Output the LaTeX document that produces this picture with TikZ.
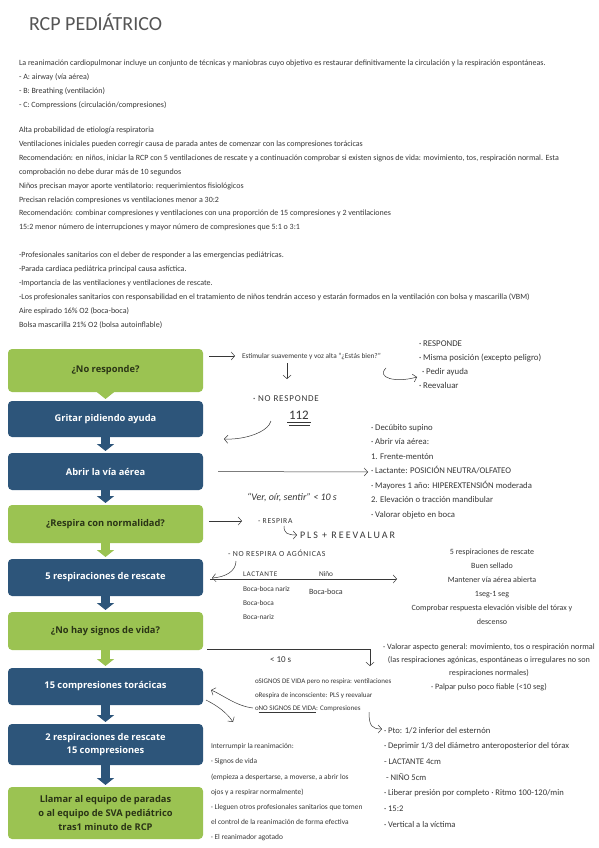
\documentclass[tikz,border=0pt]{standalone}
\usepackage{fontspec}
\setmainfont{Carlito}
\newfontfamily\boxfont{Open Sans}
\newfontfamily\capsfont[LetterSpace=9]{Carlito}
\usetikzlibrary{arrows.meta}

\definecolor{boxgreen}{RGB}{155,195,82}
\definecolor{boxblue}{RGB}{45,85,122}
\definecolor{greentext}{RGB}{42,52,22}
\definecolor{ink}{RGB}{55,55,55}
\definecolor{titlegray}{RGB}{85,85,85}

\begin{document}
\begin{tikzpicture}[x=1pt,y=-1pt,
  every node/.style={inner sep=0pt, outer sep=0pt},
  title/.style={anchor=base west, text=titlegray, font=\fontsize{20}{20}\selectfont},
  intro/.style={anchor=north west, align=left, text=ink, font=\fontsize{8}{13.9}\selectfont},
  note/.style={anchor=base west, text=ink, font=\fontsize{#1}{9}\selectfont},
  note/.default=7.3,
  capsnote/.style={anchor=base west, text=ink, font=\capsfont\fontsize{#1}{9}\selectfont},
  notes/.style 2 args={anchor=north west, align=left, text=ink, font=\fontsize{#1}{#2}\selectfont},
  greenbox/.style={fill=boxgreen, text=greentext, rounded corners=4pt, minimum width=195pt,
    align=center, font=\boxfont\bfseries\fontsize{9.3}{13.5}\selectfont},
  bluebox/.style={greenbox, fill=boxblue, text=white},
  blockarrow/.style={line width=9pt, -{Triangle[length=7pt,width=17pt]}},
  hand/.style={draw=ink, line width=0.5pt, -{Straight Barb[length=3.5pt,width=8pt]}}
]
\useasboundingbox[fill=white] (0,0) rectangle (599,848);

% Title
\node[title] (title) at (29,31) {RCP PEDIÁTRICO};

% Introduction
\node[intro] (intro1) at (19,60)
{La reanimación cardiopulmonar incluye un conjunto de técnicas y maniobras cuyo objetivo es restaurar definitivamente la circulación y la respiración espontáneas.\\
- A: airway (vía aérea)\\
- B: Breathing (ventilación)\\
- C: Compressions (circulación/compresiones)};

\node[intro] (intro2) at (19,127)
{Alta probabilidad de etiología respiratoria\\
Ventilaciones iniciales pueden corregir causa de parada antes de comenzar con las compresiones torácicas\\
Recomendación: en niños, iniciar la RCP con 5 ventilaciones de rescate y a continuación comprobar si existen signos de vida: movimiento, tos, respiración normal. Esta\\
comprobación no debe durar más de 10 segundos\\
Niños precisan mayor aporte ventilatorio: requerimientos fisiológicos\\
Precisan relación compresiones vs ventilaciones menor a 30:2\\
Recomendación: combinar compresiones y ventilaciones con una proporción de 15 compresiones y 2 ventilaciones\\
15:2 menor número de interrupciones y mayor número de compresiones que 5:1 o 3:1};

\node[intro] (intro3) at (19,252)
{-Profesionales sanitarios con el deber de responder a las emergencias pediátricas.\\
-Parada cardiaca pediátrica principal causa asfíctica.\\
-Importancia de las ventilaciones y ventilaciones de rescate.\\
-Los profesionales sanitarios con responsabilidad en el tratamiento de niños tendrán acceso y estarán formados en la ventilación con bolsa y mascarilla (VBM)\\
Aire espirado 16\% O2 (boca-boca)\\
Bolsa mascarilla 21\% O2 (bolsa autoinflable)};

% Flow boxes
\node[greenbox, minimum height=43pt] (b1) at (105.5,370.5) {¿No responde?};
\node[bluebox, minimum height=36pt] (b2) at (105.5,419) {Gritar pidiendo ayuda};
\node[bluebox, minimum height=37pt] (b3) at (105.5,471.5) {Abrir la vía aérea};
\node[greenbox, minimum height=38pt] (b4) at (105.5,524) {¿Respira con normalidad?};
\node[bluebox, minimum height=37pt] (b5) at (105.5,577.5) {5 respiraciones de rescate};
\node[greenbox, minimum height=38pt] (b6) at (105.5,631) {¿No hay signos de vida?};
\node[bluebox, minimum height=37pt] (b7) at (105.5,686.5) {15 compresiones torácicas};
\node[bluebox, minimum height=41pt] (b8) at (105.5,744.5) {2 respiraciones de rescate\\15 compresiones};
\node[greenbox, minimum height=52pt, font=\boxfont\bfseries\fontsize{9.3}{14}\selectfont] (b9) at (105.5,813)
{Llamar al equipo de paradas\\o al equipo de SVA pediátrico\\tras1 minuto de RCP};

% Block arrows
\draw[blockarrow, boxgreen] (b1.south) -- ([yshift=2pt]b2.north);
\draw[blockarrow, boxblue] (b2.south) -- ([yshift=2pt]b3.north);
\draw[blockarrow, boxblue] (b3.south) -- ([yshift=2pt]b4.north);
\draw[blockarrow, boxgreen] (b4.south) -- ([yshift=2pt]b5.north);
\draw[blockarrow, boxblue] (b5.south) -- ([yshift=2pt]b6.north);
\draw[blockarrow, boxgreen] (b6.south) -- ([yshift=2pt]b7.north);
\draw[blockarrow, boxblue] (b7.south) -- ([yshift=2pt]b8.north);
\draw[blockarrow, boxblue] (b8.south) -- ([yshift=2pt]b9.north);

% Step 1
\node[note] (estim) at (242,358) {Estimular suavemente y voz alta “¿Estás bien?”};
\draw[hand, shorten <=6pt, shorten >=7pt] (b1.east |- estim.west) -- (estim.west);

\node[notes={8.8}{14}] (responde) at (419,340.4)
{· RESPONDE\\
· Misma posición (excepto peligro)\\
\hspace{3pt}· Pedir ayuda\\
· Reevaluar};

\coordinate (hk1a) at (386,368);
\coordinate (hk1b) at (417,377);
\draw[hand] (hk1a) .. controls (376,378) and (396,383) .. (hk1b);

\coordinate (dn1a) at (287,363);
\coordinate (dn1b) at (287,379);
\draw[hand] (dn1a) -- (dn1b);

% Step 2
\node[capsnote=9] (noresp) at (253,401.5) {· NO RESPONDE};
\node[note=13] (n112) at (289,419) {112};
\draw[ink, line width=0.6pt] ([xshift=-2pt,yshift=-3pt]n112.base west) -- ([xshift=2pt,yshift=-3pt]n112.base east);
\draw[ink, line width=0.6pt] ([xshift=0pt,yshift=-6pt]n112.base west) -- ([xshift=1pt,yshift=-6pt]n112.base east);

\coordinate (cv2a) at (271,421);
\coordinate (cv2b) at (224,439);
\draw[hand] (cv2a) .. controls (268,432) and (245,440) .. (cv2b);

% Step 3
\node[notes={8.7}{14.5}] (abrir) at (371,424.2)
{· Decúbito supino\\
· Abrir vía aérea:\\
1. Frente-mentón\\
· Lactante: POSICIÓN NEUTRA/OLFATEO\\
· Mayores 1 año: HIPEREXTENSIÓN moderada\\
2. Elevación o tracción mandibular\\
· Valorar objeto en boca};
\coordinate (h3) at (368,472);
\draw[hand, shorten <=15pt] (b3.east) -- (h3);

\node[note, font=\itshape\fontsize{10}{10}\selectfont] (ver) at (247,500) {“Ver, oír, sentir” < 10 s};

% Step 4
\node[capsnote=7.6] (respira) at (258,523.5) {- RESPIRA};
\draw[hand, shorten <=6pt, shorten >=16pt] ([yshift=3pt]b4.east) -- ([yshift=3pt]b4.east -| respira.west);
\node[capsnote=9.4, font=\addfontfeatures{LetterSpace=20}] (pls) at (300,538.5) {PLS + REEVALUAR};
\coordinate (hk4a) at (284,526);
\coordinate (hk4b) at (297,535);
\draw[hand] (hk4a) .. controls (284,533) and (287,535) .. (hk4b);

% Step 5
\node[capsnote=7.8] (norespira) at (228,556.5) {- NO RESPIRA O AGÓNICAS};
\coordinate (cv5a) at (236,561);
\coordinate (cv5b) at (212,578);
\draw[hand] (cv5a) .. controls (236,571) and (226,577) .. (cv5b);
\coordinate (h5) at (397,579);
\draw[hand, shorten <=7pt] ([yshift=-1.5pt]b5.east) -- (h5);

\node[capsnote=7.2] (lact) at (243,576) {LACTANTE};
\node[note] (nino) at (319,576) {Niño};
\node[note] (bbn) at (243,591) {Boca-boca nariz};
\node[note=8] (bbnino) at (309,594) {Boca-boca};
\node[note] (bb) at (243,605) {Boca-boca};
\node[note] (bnar) at (243,619) {Boca-nariz};

\node[notes={8}{14}, anchor=north, align=center] (rescate) at (492,549.4)
{5 respiraciones de rescate\\
Buen sellado\\
Mantener vía aérea abierta\\
1seg-1 seg\\
Comprobar respuesta elevación visible del tórax y\\
descenso};

% Step 6
\coordinate (v6) at (370,666);
\draw[hand, shorten <=4pt] ([yshift=-18pt]b6.east) -| (v6);
\node[note=9] (lt10) at (270,662) {< 10 s};

\node[notes={8.2}{13.3}, anchor=north, align=center] (valorar) at (489,643.4)
{· Valorar aspecto general: movimiento, tos o respiración normal\\
(las respiraciones agónicas, espontáneas o irregulares no son\\
respiraciones normales)\\
· Palpar pulso poco fiable (<10 seg)};

% Step 7
\node[notes={7}{13.5}] (signos) at (255,678.8)
{oSIGNOS DE VIDA pero no respira: ventilaciones\\
oRespira de inconsciente: PLS y reevaluar\\
o\underline{NO SIGNOS DE VIDA}: Compresiones};
\coordinate (cv7a) at (253,708);
\coordinate (cv7b) at (211,690);
\draw[hand] (cv7a) .. controls (236,706) and (223,695) .. (cv7b);

\coordinate (cv8a) at (206,700);
\coordinate (cv8b) at (233,722);
\draw[hand] (cv8a) .. controls (218,706) and (227,713) .. (cv8b);

\node[notes={7.4}{15.2}] (interr) at (211,743.6)
{Interrumpir la reanimación:\\
· Signos de vida\\
(empieza a despertarse, a moverse, a abrir los\\
ojos y a respirar normalmente)\\
· Lleguen otros profesionales sanitarios que tomen\\
el control de la reanimación de forma efectiva\\
· El reanimador agotado};

\coordinate (hk7a) at (369,712);
\coordinate (hk7b) at (382,729);
\draw[hand] (hk7a) .. controls (369,726) and (372,729) .. (hk7b);

\node[notes={8.6}{15.7}] (pto) at (384,727.2)
{· Pto: 1/2 inferior del esternón\\
· Deprimir 1/3 del diámetro anteroposterior del tórax\\
- LACTANTE 4cm\\
\hspace{2pt}- NIÑO 5cm\\
· Liberar presión por completo · Ritmo 100-120/min\\
· 15:2\\
· Vertical a la víctima};
\end{tikzpicture}
\end{document}
